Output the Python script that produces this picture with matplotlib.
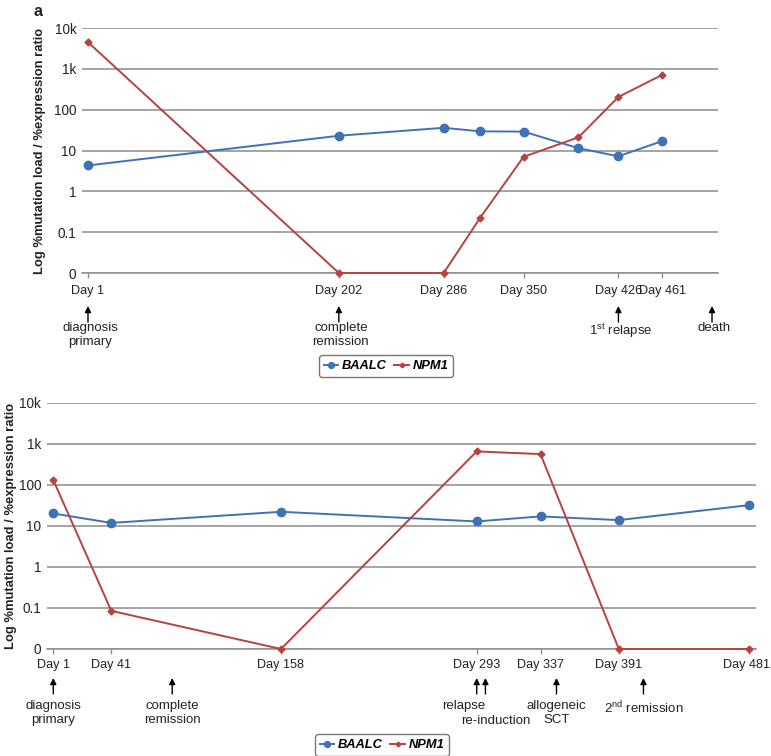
import numpy as np
import matplotlib
matplotlib.use('Agg')
import matplotlib.pyplot as plt
from matplotlib.transforms import blended_transform_factory, ScaledTranslation

plt.rcParams['font.family'] = ['Liberation Sans', 'DejaVu Sans']

# --- dati pannello a ---
days_a = [1, 202, 286, 315, 350, 394, 426, 461]
baalc_a = [4.3, 23, 36, 29.5, 29, 11.4, 7.2, 17]
npm1_a = [4500, 0, 0, 0.22, 7, 21, 205, 710]
ticks_a = [1, 202, 286, 350, 426, 461]
events_a = [(1, 'diagnosis\nprimary'), (202, 'complete\nremission'),
            (426, '1$^{\\mathregular{st}}$ relapse'), (501, 'death')]

# --- dati pannello b ---
days_b = [1, 41, 158, 293, 337, 391, 481]
baalc_b = [20, 11.8, 22, 12.8, 17, 13.8, 32]
npm1_b = [130, 0.085, 0, 650, 560, 0, 0]
ticks_b = [1, 41, 158, 293, 337, 391, 481]
events_b = [(1, 'diagnosis\nprimary'), (83, 'complete\nremission'),
            (293, 'relapse'), (299, 're-induction'),
            (348, 'allogeneic\nSCT'), (408, '2$^{\\mathregular{nd}}$ remission')]

yticks = [0.01, 0.1, 1, 10, 100, 1000, 10000]
ylabels = ['0', '0.1', '1', '10', '100', '1k', '10k']
ZERO = 0.01  # livello a cui si disegna il valore 0

W, H = 771, 756
BLUE = '#3F72B5'
RED = '#B8423F'
GRID = '#8C8C8C'
TXT = '#222222'
FS = 9.5

fig = plt.figure(figsize=(W / 100, H / 100), dpi=100)


def fy(ypx):
    return 1 - ypx / H


def panel(rect, days, baalc, npm1, ticks, xlim, label_x, tick_pad):
    ax = fig.add_axes(rect)
    ax.set_yscale('log')
    ax.set_ylim(ZERO, 10000)
    ax.set_xlim(*xlim)
    for v in yticks:
        ax.axhline(v, color=GRID, lw=1.1, zorder=1)
    b = np.array(baalc, dtype=float)
    n = np.array(npm1, dtype=float)
    n = np.where(n == 0, ZERO, n)
    ax.plot(days, b, color=BLUE, lw=1.4, marker='o', ms=6, label='BAALC',
            zorder=3, clip_on=False)
    ax.plot(days, n, color=RED, lw=1.4, marker='D', ms=3.5, label='NPM1',
            zorder=4, clip_on=False)
    ax.set_yticks(yticks)
    ax.set_yticklabels(ylabels)
    ax.yaxis.set_minor_locator(plt.NullLocator())
    ax.tick_params(axis='y', length=0, pad=4, labelsize=9.8, labelcolor=TXT)
    ax.set_xticks(ticks)
    ax.set_xticklabels([f'Day {d}' for d in ticks])
    ax.tick_params(axis='x', length=3.5, width=1, color=GRID, pad=tick_pad,
                   labelsize=9.1, labelcolor=TXT)
    for s in ['left', 'right', 'top']:
        ax.spines[s].set_visible(False)
    ax.spines['bottom'].set_color(GRID)
    ax.spines['bottom'].set_linewidth(1.1)
    ax.set_ylabel('Log %mutation load / %expression ratio', fontsize=9.4,
                  fontweight='bold', color=TXT)
    ax.yaxis.set_label_coords(label_x, 0.5)
    return ax


def arrow(ax, day, y0, y1):
    tr = blended_transform_factory(ax.transData, fig.transFigure)
    ax.annotate('', xy=(day, fy(y0)), xytext=(day, fy(y1)), xycoords=tr,
                textcoords=tr, annotation_clip=False,
                arrowprops=dict(arrowstyle='-|>', color='black', lw=1.0,
                                mutation_scale=9, shrinkA=0, shrinkB=0))


def note(ax, day, ypx, text, dx=0):
    tr = blended_transform_factory(ax.transData, fig.transFigure)
    ax.annotate(text, xy=(day, fy(ypx)), xycoords=tr, xytext=(dx, 0),
                textcoords='offset pixels', ha='center', va='top',
                fontsize=FS, color=TXT, linespacing=1.2,
                annotation_clip=False)


# pannello a
ax1 = panel([82 / W, 1 - 273 / H, 636 / W, 245 / H], days_a, baalc_a, npm1_a,
            ticks_a, (-3.8, 505.8), -0.057, 5)
for d, t in events_a:
    arrow(ax1, d, 306, 322)
    note(ax1, d, 322, t, dx=2)

# pannello b
ax2 = panel([46.7 / W, 1 - 649 / H, 709 / W, 246.3 / H], days_b, baalc_b,
            npm1_b, ticks_b, (-3.55, 485.4), -0.042, 4)
# l'ultima etichetta tocca il bordo destro: la sposto di poco a sinistra
last = ax2.get_xticklabels()[-1]
last.set_transform(last.get_transform() + ScaledTranslation(-3 / 100, 0, fig.dpi_scale_trans))
offsets = {'relapse': -13, 're-induction': 10}
for d, t in events_b:
    arrow(ax2, d, 678, 694)
    if t == 're-induction':
        note(ax2, d, 715, t, dx=offsets[t])
    else:
        note(ax2, d, 700, t, dx=offsets.get(t, 0))

fig.text(38 / W, fy(12), 'a', fontsize=11.5, fontweight='bold', ha='center',
         va='center', color=TXT)

legend_kw = dict(ncol=2, frameon=True, fancybox=True, edgecolor='#555555',
                 handlelength=1.1, handletextpad=0.3, columnspacing=0.6,
                 borderpad=0.35, loc='center',
                 prop=dict(weight='bold', style='italic', size=9.3))
for ax, (cx, cy) in [(ax1, (386, 366)), (ax2, (382, 745))]:
    leg = ax.legend(bbox_to_anchor=(cx / W, fy(cy)),
                    bbox_transform=fig.transFigure, markerscale=0.7,
                    **legend_kw)
    leg.get_frame().set_linewidth(1.0)

fig.savefig('out.png', dpi=100)
